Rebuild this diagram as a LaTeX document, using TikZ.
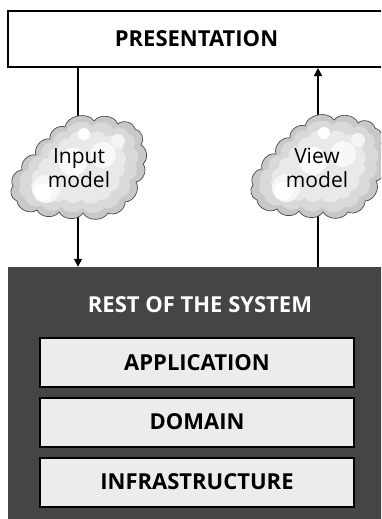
\documentclass[tikz,border=0pt]{standalone}
\usepackage{fontspec}
\IfFontExistsTF{Open Sans SemiBold}{\setmainfont{Open Sans}[BoldFont={Open Sans SemiBold}]}{\setmainfont{Open Sans}}
\usetikzlibrary{arrows.meta}
\definecolor{darkbox}{HTML}{454545}
\definecolor{layerfill}{HTML}{ECECEC}
\definecolor{cloudA}{HTML}{C8C8C8}
\definecolor{cloudB}{HTML}{D9D9D9}
\definecolor{cloudC}{HTML}{E9E9E9}
\definecolor{cloudline}{HTML}{4A4A4A}
\newcommand\mycloudpath{(-13,40) to[bend left=70] (16,46) to[bend left=60] (40,43) to[bend left=60] (57,38) to[bend left=60] (63,22) to[bend left=55] (65,3) to[bend left=60] (58,-15) to[bend left=60] (47,-35) to[bend left=60] (30,-46) to[bend left=60] (5,-46) to[bend left=60] (-19,-45) to[bend left=60] (-41,-43) to[bend left=60] (-61,-34) to[bend left=60] (-65,-19) to[bend left=60] (-56,-3) to[bend left=60] (-42,12) to[bend left=60] (-28,28) to[bend left=60] (-13,40) -- cycle}
\tikzset{
  x=1pt, y=1pt,
  presbox/.style={draw=black, line width=2pt, fill=white, minimum width=377pt, minimum height=56pt, inner sep=0pt},
  sysbox/.style={fill=darkbox, minimum width=377pt, minimum height=252pt, inner sep=0pt},
  layerbox/.style={draw=black, line width=2pt, fill=layerfill, minimum width=314pt, minimum height=49pt, inner sep=0pt},
  capfont/.style={font=\fontsize{22}{26}\selectfont\bfseries, text height=15.5pt, text depth=0pt},
  cloudtext/.style={font=\fontsize{21}{24}\selectfont, align=center, inner sep=0pt},
  conn/.style={line width=1.6pt, draw=black},
  tip/.style={-{Triangle[width=8pt,length=8pt]}},
  cloudpic/.pic={
    \begin{scope}
      \clip \mycloudpath;
      \fill[cloudA] (-80,-60) rectangle (80,60);
      \fill[cloudB, scale=0.88] \mycloudpath;
      \fill[cloudC, scale=0.7] \mycloudpath;
      \fill[white!60!cloudC] (-32,-22) circle (14);
      \fill[white] (-35,-25) circle (9);
      \fill[white] (6,33) circle (6);
      \fill[white!70!cloudC] (25,12) circle (13);
      \fill[white!80!cloudC] (-5,5) circle (14);
      \fill[white!50!cloudC] (40,26) circle (7);
    \end{scope}
    \draw[cloudline, line width=0.7pt] \mycloudpath;
  }
}
\begin{document}
\begin{tikzpicture}
\useasboundingbox (0,0) rectangle (381,-519);
\clip (0,0) rectangle (381,-519);
% boxes
\node[presbox, capfont] (pres) at (196.5,-39) {PRESENTATION};
\node[sysbox] (sys) at (196.5,-393) {};
\node[capfont, text=white] (systitle) at (200,-304.5) {REST OF THE SYSTEM};
\node[layerbox, capfont] (app) at (197,-362.5) {APPLICATION};
\node[layerbox, capfont] (dom) at (197,-422) {DOMAIN};
\node[layerbox, capfont] (infra) at (197,-482) {INFRASTRUCTURE};
% cloud centres
\coordinate (inpc) at (78,-167);
\coordinate (viewc) at (318,-166);
% connectors
\draw[conn] (pres.south -| inpc) -- (inpc);
\draw[conn, tip] (inpc) -- (sys.north -| inpc);
\draw[conn] (sys.north -| viewc) -- (viewc);
\draw[conn, tip] (viewc) -- (pres.south -| viewc);
% clouds
\pic at (inpc) {cloudpic};
\pic at (viewc) {cloudpic};
\node[cloudtext] (inp) at (79,-168) {Input\\model};
\node[cloudtext] (view) at (317,-168) {View\\model};
\end{tikzpicture}
\end{document}
